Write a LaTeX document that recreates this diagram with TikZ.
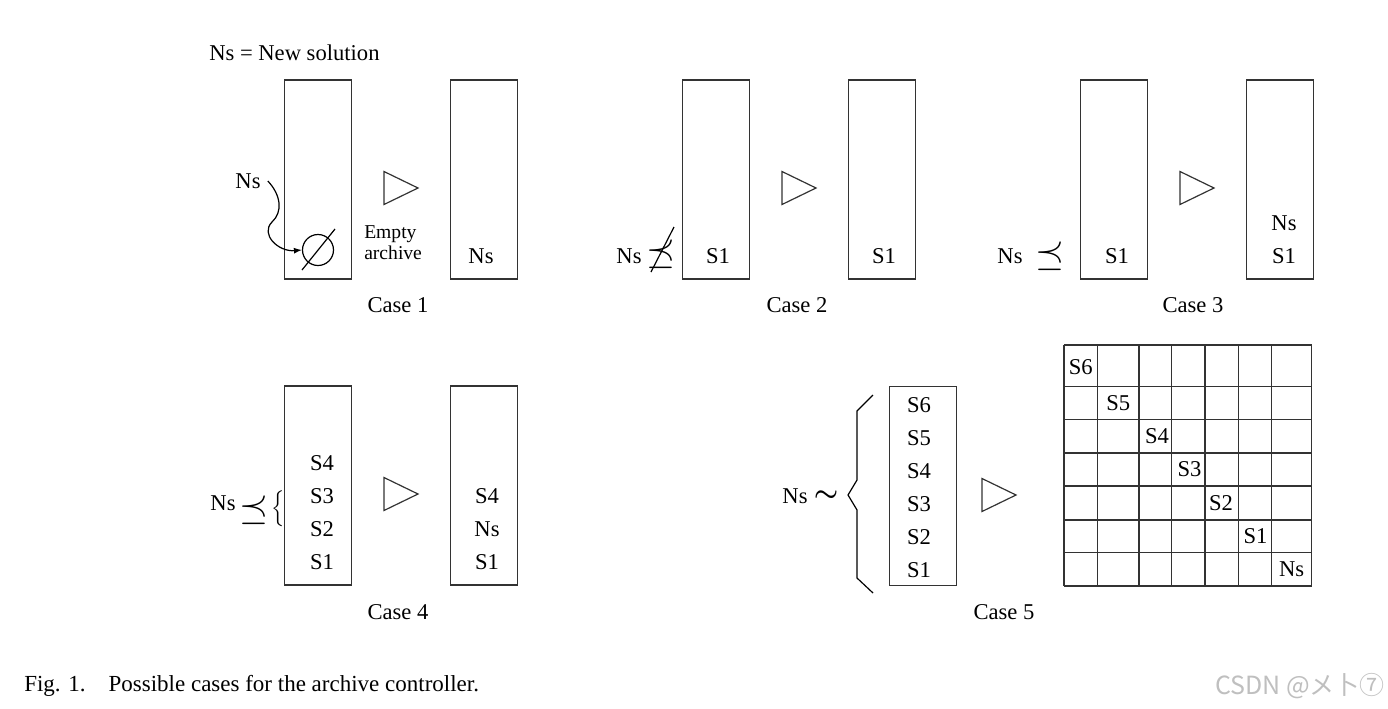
\documentclass[tikz,border=0pt]{standalone}
\usepackage{fontspec}
\setmainfont{Liberation Serif}
\newfontfamily\cjkfont{Noto Sans CJK SC}
\usepackage{graphicx}
\usetikzlibrary{positioning,arrows.meta}

\begin{document}
\begin{tikzpicture}[x=0.5pt,y=-0.5pt,semithick,on grid,
	font=\fontsize{11.3}{13}\selectfont,
	archive/.style={draw=black!80,minimum width=33.3pt,minimum height=99.5pt,inner sep=0pt},
	tri/.style={draw=black!80,line join=miter},
	small/.style={font=\fontsize{9.8}{10.5}\selectfont,align=left},
	bigsym/.style={inner sep=0pt}]

	\useasboundingbox (0,0) rectangle (1388,708);

	\node[anchor=west] (legend) at (202,53) {Ns = New solution};

	% case 1
	\node[archive] (c1a) at (318,179.5) {};
	\node[archive,right=83pt of c1a] (c1b) {};
	\node (c1ns) at (248,181) {Ns};
	\node[draw,circle,minimum size=15.5pt,inner sep=0pt] (empty) at (318,250) {};
	\draw ([shift={(-16,20)}]empty.center) -- ([shift={(17,-21)}]empty.center);
	\draw[-{Latex[length=4pt,width=3pt]}] (c1ns.east) .. controls (281,195) and (283,212) .. (272,222)
		.. controls (260,234) and (278,252) .. (empty.west);
	\node[small,anchor=west] (c1txt) at (357,243) {Empty\\archive};
	\node (c1out) at (481,256) {Ns};
	\node (c1lab) at (398,305) {Case 1};

	% case 2
	\node[archive] (c2a) at (716,179.5) {};
	\node[archive,right=83pt of c2a] (c2b) {};
	\node (c2ns) at (629,256) {Ns};
	\node[bigsym] (c2rel) at (661,254) {\scalebox{1.7}{$\preceq$}};
	\draw ([shift={(-10,18)}]c2rel.center) -- ([shift={(13,-27)}]c2rel.center);
	\node (c2s1) at (718,256) {S1};
	\node (c2out) at (884,256) {S1};
	\node (c2lab) at (797,305) {Case 2};

	% case 3
	\node[archive] (c3a) at (1114,179.5) {};
	\node[archive,right=83pt of c3a] (c3b) {};
	\node (c3ns) at (1010,256) {Ns};
	\node[bigsym] (c3rel) at (1050,256) {\scalebox{1.7}{$\preceq$}};
	\node (c3s1) at (1117,256) {S1};
	\node (c3s1b) at (1284,256) {S1};
	\node[above=16.5pt of c3s1b] (c3out) {Ns};
	\node (c3lab) at (1193,305) {Case 3};

	% case 4
	\node[archive] (c4a) at (318,485.5) {};
	\node[archive,right=83pt of c4a] (c4b) {};
	\node (c4ns) at (223,503) {Ns};
	\node[bigsym] (c4rel) at (254,510) {\scalebox{1.7}{$\preceq$}};
	\node[bigsym] (c4brace) at (278,509) {$\Big\{$};
	\node (c4s1) at (322,562) {S1};
	\node[above=16.5pt of c4s1] (c4s2) {S2};
	\node[above=16.5pt of c4s2] (c4s3) {S3};
	\node[above=16.5pt of c4s3] (c4s4) {S4};
	\node (c4s1b) at (487,562) {S1};
	\node[above=16.5pt of c4s1b] (c4out) {Ns};
	\node[above=16.5pt of c4out] (c4s4b) {S4};
	\node (c4lab) at (398,612) {Case 4};

	% case 5
	\node[archive] (c5a) at (923,486) {};
	\node (c5ns) at (795,496) {Ns};
	\node[right=15.5pt of c5ns] (c5rel) {\scalebox{1.25}{\boldmath$\sim$}};
	\draw (873,395) -- (857,411) -- (857,480) -- (848,495) -- (857,510) -- (857,578) -- (873,593);
	\node (c5s1) at (919,570) {S1};
	\node[above=16.5pt of c5s1] (c5s2) {S2};
	\node[above=16.5pt of c5s2] (c5s3) {S3};
	\node[above=16.5pt of c5s3] (c5s4) {S4};
	\node[above=16.5pt of c5s4] (c5s5) {S5};
	\node[above=16.5pt of c5s5] (c5s6) {S6};
	\node (c5lab) at (1004,612) {Case 5};

	% grid of the archive
	\foreach \gx in {1064,1097.7,1139,1171.7,1205,1238.3,1271.7,1311.7}
		\draw[draw=black!80] (\gx,345) -- (\gx,586);
	\foreach \gy in {345,386.7,419.3,453,486,520,552.7,586}
		\draw[draw=black!80] (1064,\gy) -- (1311.7,\gy);
	\foreach \lbl/\gx/\gy in {S6/1080.8/367,S5/1118.3/403,S4/1157/436,S3/1189.5/469.5,S2/1221/503,S1/1255.5/536.3,Ns/1291.7/569.3}
		\node (g\lbl) at (\gx,\gy) {\lbl};

	% arrows between archives
	\foreach \tx/\ty in {384/188,782/188,1180/188,384/494,982/495}
		\draw[tri] (\tx,\ty-16.5) -- (\tx+34,\ty) -- (\tx,\ty+16.5) -- cycle;

	\node[anchor=west,font=\fontsize{11.5}{13}\selectfont] (caption) at (17,686) {Fig. 1.\quad Possible cases for the archive controller.};
	\node[anchor=east,text=black!25,font=\cjkfont\fontsize{12.5}{14}\selectfont] (mark) at (1392,686) {CSDN @メ卜⑦};

\end{tikzpicture}
\end{document}
